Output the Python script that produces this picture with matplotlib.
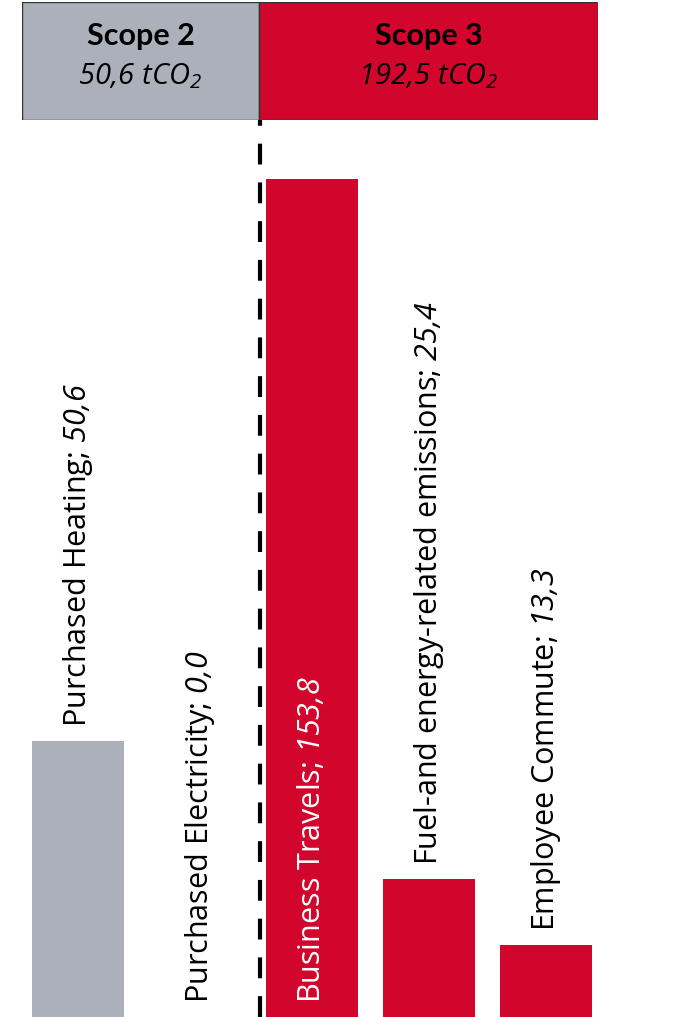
import matplotlib.pyplot as plt
from matplotlib.patches import Rectangle

# Datos (tCO2)
categorias = ["Purchased Heating", "Purchased Electricity", "Business Travels",
              "Fuel-and energy-related emissions", "Employee Commute"]
valores = [50.6, 0.0, 153.8, 25.4, 13.3]
etiquetas_valor = ["50,6", "0,0", "153,8", "25,4", "13,3"]
scope_de = [2, 2, 3, 3, 3]

scopes = ["Scope 2", "Scope 3"]
totales_scope = ["50,6", "192,5"]

GRIS = "#ABB0BB"
ROJO = "#D2052D"

# el texto dentro de $...$ sale en cursiva (numeros y tCO2)
plt.rcParams["mathtext.fontset"] = "custom"
plt.rcParams["mathtext.rm"] = "Open Sans:italic"
plt.rcParams["mathtext.it"] = "Open Sans:italic"


def num_math(s):
    return s.replace(",", "{,}")


W, H = 684, 1017
fig = plt.figure(figsize=(W / 100, H / 100), dpi=100)

# --- eje principal de barras ---
ax = fig.add_axes([19.5 / W, 0, 585 / W, 897 / H])
colores = [GRIS if s == 2 else ROJO for s in scope_de]
x = list(range(len(valores)))
ax.bar(x, valores, width=0.79, color=colores)
ax.set_xlim(-0.5, 4.5)
ax.set_ylim(0, 164.6)
ax.axis("off")

# linea discontinua entre scope 2 y scope 3
ax.axvline(1.556, color="black", lw=3, ls=(0, (5, 4.3)), clip_on=False)

offset = 14 / 5.45
for i, (cat, val, lab) in enumerate(zip(categorias, valores, etiquetas_valor)):
    texto = cat + "; $" + num_math(lab) + "$"
    if i == 2:
        # etiqueta dentro de la barra
        ax.text(i, offset, texto, rotation=90, ha="center", va="bottom",
                fontsize=22, family="Open Sans", color="white")
    else:
        ax.text(i + (0.04 if val == 0 else 0), val + offset, texto, rotation=90,
                ha="center", va="bottom", fontsize=22, family="Open Sans",
                color="black")

# --- cabecera con los totales por scope ---
hx = fig.add_axes([22 / W, (H - 120) / H, 576 / W, 118 / H])
hx.set_xlim(22, 598)
hx.set_ylim(120, 2)
hx.axis("off")
cajas = [(22, 259, GRIS), (259, 598, ROJO)]
for (x0, x1, col), nombre, tot in zip(cajas, scopes, totales_scope):
    hx.add_patch(Rectangle((x0, 2), x1 - x0, 118, facecolor=col,
                           edgecolor="#333333", lw=1))
    xc = (x0 + x1) / 2
    hx.text(xc, 36, nombre, ha="center", va="center", fontsize=22,
            family="Lato", fontweight="bold")
    hx.text(xc, 76, "$" + num_math(tot) + "\\ tCO_2$",
            ha="center", va="center", fontsize=21, family="Open Sans")

fig.savefig("out.png", dpi=100)
